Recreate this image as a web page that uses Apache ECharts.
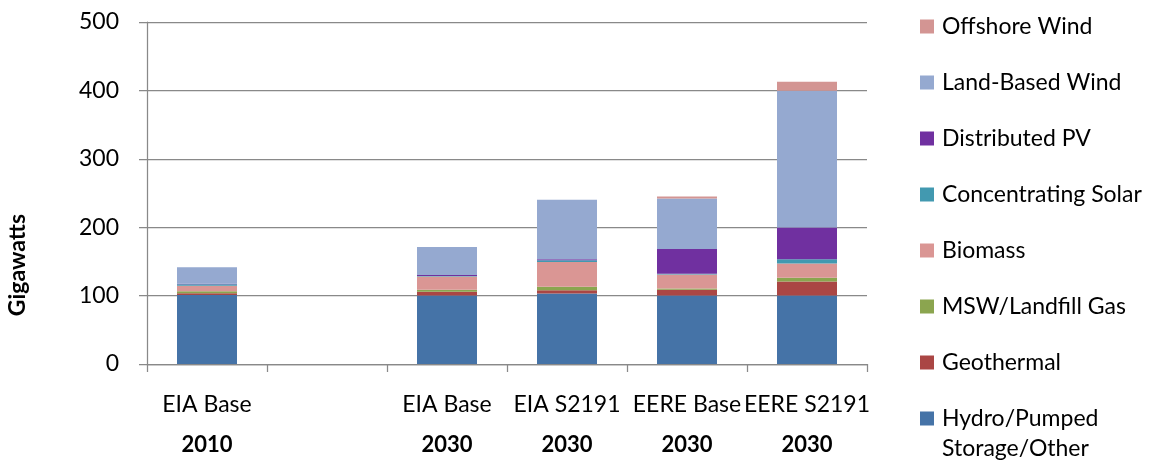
<!DOCTYPE html>
<html><head><meta charset="utf-8">
<script src="https://cdn.jsdelivr.net/npm/echarts@6/dist/echarts.min.js"></script>
<style>html,body{margin:0;padding:0;background:#fff}#c{width:1154px;height:462px}</style>
</head><body><div id="c"></div>
<script>
// Categories (scenario / year)
const scenarios = ['EIA Base', '', 'EIA Base', 'EIA S2191', 'EERE Base', 'EERE S2191'];
const years = ['2010', '', '2030', '2030', '2030', '2030'];
// Series values (GW)
const hydro    = [101, null, 100, 103, 100, 100];
const geo      = [2.5, null, 5.5, 5, 8.5, 20.5];
const msw      = [3, null, 3, 5, 2, 5.5];
const biomass  = [8, null, 19.5, 36, 20.5, 21];
const csp      = [2, null, 0.5, 2.5, 1, 6];
const dpv      = [1, null, 1.5, 1.5, 36, 46.5];
const landWind = [24, null, 41, 87, 74, 200];
const offshore = [0, null, 0, 0, 3, 13];
const yTicks = [0, 100, 200, 300, 400, 500];
const seriesNames = ['Hydro/Pumped Storage/Other', 'Geothermal', 'MSW/Landfill Gas', 'Biomass',
  'Concentrating Solar', 'Distributed PV', 'Land-Based Wind', 'Offshore Wind'];
const seriesData = [hydro, geo, msw, biomass, csp, dpv, landWind, offshore];
const colors = ['#4573A7', '#AA4644', '#8BA54F', '#DA9694', '#4299B0', '#7030A0', '#95A9D0', '#D39593'];

const categories = scenarios.map((s, i) => s + '|' + years[i]);
const FONT = 'Lato';
const AX = '#898989';

const chart = echarts.init(document.getElementById('c'), null, {renderer: 'canvas'});
chart.setOption({
  animation: false,
  backgroundColor: '#fff',
  grid: {left: 147, right: 287, top: 22, bottom: 98, containLabel: false},
  xAxis: {
    type: 'category',
    data: categories,
    axisLine: {show: true, lineStyle: {color: AX, width: 1.25}},
    axisTick: {show: true, length: 8, lineStyle: {color: AX, width: 1.25}},
    axisLabel: {
      interval: 0, margin: 21, color: '#000',
      formatter: v => { const p = v.split('|'); return p[0] ? '{a|' + p[0] + '}\n{b|' + p[1] + '}' : ''; },
      rich: {
        a: {fontSize: 23, fontFamily: FONT, lineHeight: 40, color: '#000'},
        b: {fontSize: 22, fontFamily: FONT, fontWeight: 'bold', lineHeight: 40, color: '#000'}
      }
    }
  },
  yAxis: {
    type: 'value', min: yTicks[0], max: yTicks[yTicks.length - 1], interval: 100,
    axisLine: {show: true, lineStyle: {color: AX, width: 1.25}},
    axisTick: {show: true, length: 8, lineStyle: {color: AX, width: 1.25}},
    axisLabel: {margin: 28, fontSize: 23, fontFamily: FONT, color: '#000'},
    splitLine: {show: true, lineStyle: {color: AX, width: 1.25}}
  },
  legend: {
    orient: 'vertical', left: 920, top: 11, padding: 0,
    itemWidth: 14, itemHeight: 14, itemGap: 25, icon: 'rect', selectedMode: false,
    data: seriesNames.slice().reverse(),
    formatter: n => n === seriesNames[0] ? 'Hydro/Pumped' : n,
    textStyle: {fontSize: 23, fontFamily: FONT, color: '#000', lineHeight: 31, padding: [0, 0, 0, 3]}
  },
  graphic: [
    {type: 'text', left: 942, top: 437, style: {text: 'Storage/Other', fontSize: 23, fontFamily: FONT, fill: '#000'}},
    {type: 'text', x: 18, y: 265, rotation: Math.PI / 2,
     style: {text: 'Gigawatts', fontSize: 23, fontWeight: 'bold', fontFamily: FONT, fill: '#000', align: 'center', verticalAlign: 'middle'}}
  ],
  series: seriesNames.map((name, i) => ({
    name, type: 'bar', stack: 'total', barWidth: 60,
    itemStyle: {color: colors[i]},
    data: seriesData[i]
  }))
});
</script></body></html>
